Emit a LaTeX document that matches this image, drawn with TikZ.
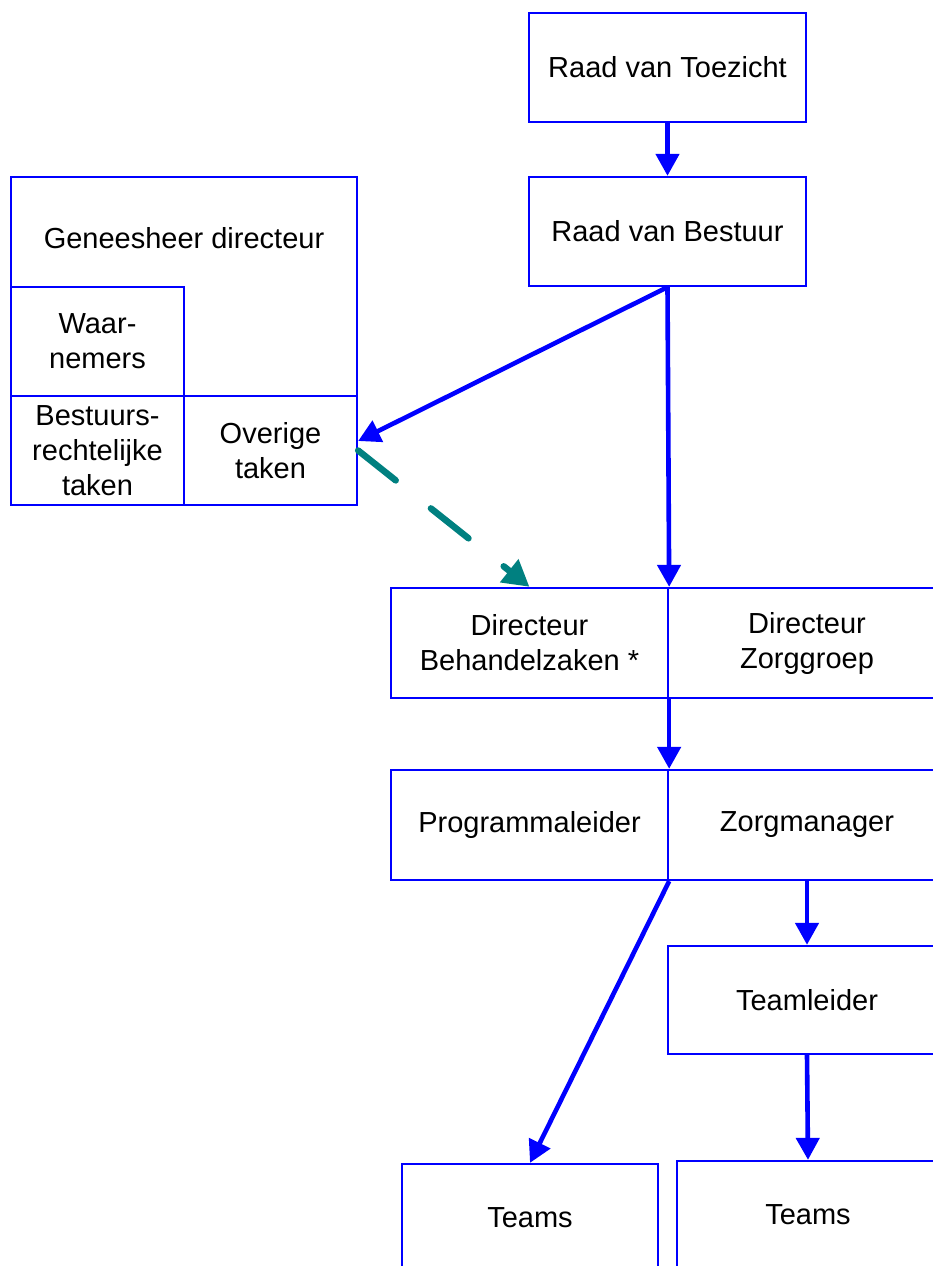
\documentclass[tikz,border=0pt]{standalone}
\usepackage{fontspec}
\setmainfont{Liberation Sans}
\usetikzlibrary{arrows.meta}
\definecolor{orgblue}{RGB}{0,0,255}
\definecolor{orgteal}{RGB}{0,128,128}
\begin{document}
\begin{tikzpicture}[x=1pt,y=-1pt,
  lbl/.style={inner sep=0pt,align=center,font=\fontsize{29}{35}\selectfont,text=black},
  box/.style={lbl,draw=orgblue,line width=2.3pt,rectangle},
  link/.style={draw=orgblue,line width=4.6pt,-{Triangle[length=22pt,width=23pt]}},
  dlink/.style={draw=orgteal,line width=6.5pt,line cap=round,dash pattern=on 48pt off 45pt,-{Triangle[length=26pt,width=28pt]}}]
\useasboundingbox (0,0) rectangle (933,1266);
\clip (0,0) rectangle (933,1266);
% top chain
\node[box,minimum width=277pt,minimum height=109pt] (rvt) at (667.5,67.5) {Raad van Toezicht};
\node[box,minimum width=277pt,minimum height=109pt] (rvb) at (667.5,231.5) {Raad van Bestuur};
% geneesheer directeur block
\node[box,minimum width=346pt,minimum height=328pt] (gd) at (184,341) {};
\node[lbl] (gdt) at (184,238) {Geneesheer directeur};
\node[box,minimum width=173pt,minimum height=109pt] (wn) at (97.5,341.5) {Waar-\\nemers};
\node[box,minimum width=173pt,minimum height=109pt] (bt) at (97.5,450.5) {Bestuurs-\\rechtelijke\\taken};
\node[box,minimum width=173pt,minimum height=109pt] (ov) at (270.5,450.5) {Overige\\taken};
% directeur row
\node[box,minimum width=277pt,minimum height=110pt] (db) at (529.5,643) {Directeur\\Behandelzaken *};
\node[box,minimum width=278pt,minimum height=110pt] (dz) at (807,643) {Directeur\\Zorggroep};
% programmaleider row
\node[box,minimum width=277pt,minimum height=110pt] (pl) at (529.5,825) {Programmaleider};
\node[box,minimum width=278pt,minimum height=110pt] (zm) at (807,825) {Zorgmanager};
% teamleider
\node[box,minimum width=278pt,minimum height=108pt] (tlr) at (807,1000) {Teamleider};
% teams
\node[box,minimum width=256pt,minimum height=108pt] (tml) at (530,1218) {Teams};
\node[box,minimum width=262pt,minimum height=108pt] (tmr) at (808,1215) {Teams};
% connectors
\draw[link] (rvt.south) -- (rvb.north);
\draw[link] (rvb.south) -- ([yshift=9.5pt]ov.east);
\draw[link] (rvb.south) -- (db.north east);
\draw[dlink] (ov.east) -- (db.north);
\draw[link] (db.south east) -- (pl.north east);
\draw[link] (pl.south east) -- (tml.north);
\draw[link] (zm.south) -- (tlr.north);
\draw[link] (tlr.south) -- (tmr.north);
\end{tikzpicture}
\end{document}
